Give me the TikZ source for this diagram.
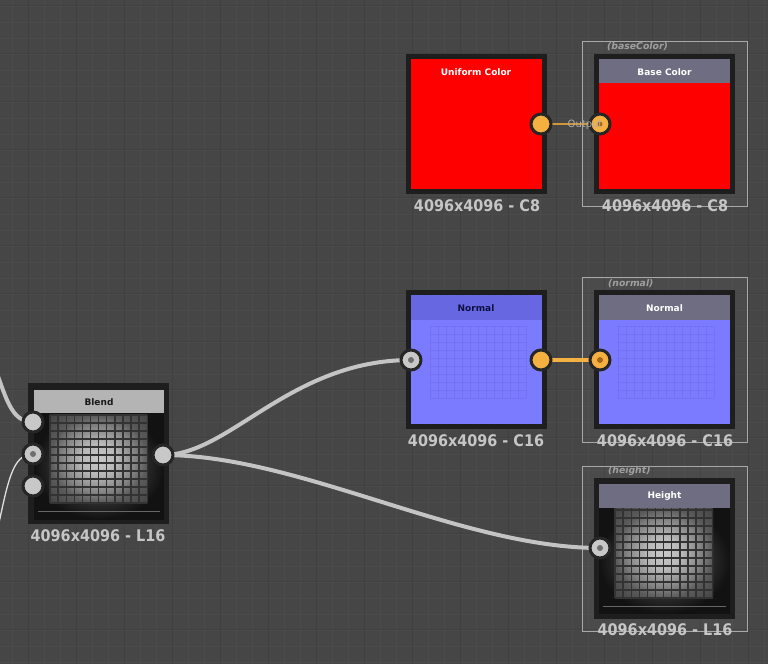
\documentclass[tikz,border=0pt]{standalone}
\usepackage{fontspec}
\setmainfont{DejaVu Sans}
\newfontfamily\labfont[FakeStretch=0.9]{DejaVu Sans}
\pgfdeclarelayer{bglayer}
\pgfdeclarelayer{wirelayer}
\pgfsetlayers{bglayer,wirelayer,main}
\definecolor{bgc}{HTML}{464646}
\definecolor{minorc}{HTML}{4B4B4B}
\definecolor{majorc}{HTML}{404040}
\definecolor{framec}{HTML}{1E1E1E}
\definecolor{hlc}{HTML}{A8A8A8}
\definecolor{titlegray}{HTML}{6E6D82}
\definecolor{titlelight}{HTML}{B4B4B4}
\definecolor{redc}{HTML}{FF0000}
\definecolor{bluec}{HTML}{7B7BFF}
\definecolor{bluetitle}{HTML}{6767E2}
\definecolor{bluegrid}{HTML}{6868E6}
\definecolor{orangec}{HTML}{F5B042}
\definecolor{orangedot}{HTML}{A86418}
\definecolor{ringc}{HTML}{262626}
\definecolor{sockgray}{HTML}{C8C8C8}
\definecolor{dotgray}{HTML}{6E6E6E}
\definecolor{wirec}{HTML}{C4C4C4}
\definecolor{labc}{HTML}{C6C6C6}
\definecolor{tagc}{HTML}{A0A0A0}
\definecolor{gA}{HTML}{C8C8C8}
\definecolor{gB}{HTML}{B8B8B8}
\definecolor{gC}{HTML}{828282}
\definecolor{gD}{HTML}{5A5A5A}
\definecolor{gE}{HTML}{444444}
\definecolor{mA}{HTML}{484848}
\definecolor{mB}{HTML}{2C2C2C}
\definecolor{mC}{HTML}{121212}
\pgfdeclareradialshading{gridglow}{\pgfpoint{0bp}{0bp}}{color(0bp)=(gA); color(9bp)=(gB); color(19bp)=(gC); color(25bp)=(gD); color(35bp)=(gE); color(50bp)=(gE)}
\pgfdeclareradialshading{bodyglow}{\pgfpoint{0bp}{0bp}}{color(0bp)=(mA); color(17bp)=(mB); color(25bp)=(mC); color(50bp)=(mC)}
\tikzset{
  sock/.style={circle, draw=ringc, line width=3pt, minimum size=20pt, inner sep=0pt},
  wire/.style={draw=wirec, line width=4pt},
  lab/.style={text=labc, font=\labfont\bfseries\fontsize{16}{16}\selectfont, inner sep=0pt},
  ttl/.style={font=\bfseries\fontsize{9}{9}\selectfont, inner sep=0pt},
  tag/.style={text=tagc, font=\bfseries\itshape\fontsize{9.3}{9.3}\selectfont, inner sep=0pt, anchor=west},
  hlbox/.style={draw=hlc, line width=1pt, fill=white, fill opacity=0.03},
  texgrid/.style={black!80, line width=1.4pt},
  faintgrid/.style={bluegrid, line width=0.6pt, opacity=0.45}
}
\begin{document}
\begin{tikzpicture}[x=1pt,y=-1pt]
\useasboundingbox (0,0) rectangle (768,664);
\begin{pgfonlayer}{bglayer}
\fill[bgc] (0,0) rectangle (768,664);
\foreach \v in {12,28,...,768} \draw[minorc, line width=0.9pt] (\v,0) -- (\v,664);
\foreach \v in {6,22,...,664} \draw[minorc, line width=0.9pt] (0,\v) -- (768,\v);
\foreach \v in {28,76,...,768} \draw[majorc, line width=1pt] (\v,0) -- (\v,664);
\foreach \v in {5,53,...,664} \draw[majorc, line width=1pt] (0,\v) -- (768,\v);
% highlight boxes
\draw[hlbox] (582.5,41.5) rectangle (747.5,206.5);
\draw[hlbox] (582.5,277.5) rectangle (747.5,442.5);
\draw[hlbox] (582.5,466.5) rectangle (747.5,631.5);
\end{pgfonlayer}

% ---------- Uniform Color ----------
\fill[framec] (406,54) rectangle (547,194);
\fill[redc] (411,59) rectangle (542,189);
\node[ttl, text=white] (tU) at (476,72) {Uniform Color};
\node[sock, fill=orangec] (uOut) at (541,124) {};
\node[lab] (lU) at (477,206) {4096x4096 - C8};

% ---------- Base Color ----------
\node[tag] (gBC) at (607,47) {(baseColor)};
\fill[framec] (594,54) rectangle (735,194);
\fill[titlegray] (599,59) rectangle (730,83);
\fill[redc] (599,83) rectangle (730,189);
\node[ttl, text=white] (tBC) at (664.5,72) {Base Color};
\node[sock, fill=orangec] (bIn) at (600,124) {};
\fill[orangedot] (bIn) circle (2.5);
\node[lab] (lBC) at (665,206) {4096x4096 - C8};

% ---------- Normal (left) ----------
\fill[framec] (406,290) rectangle (547,429);
\fill[bluetitle] (411,295) rectangle (542,320);
\fill[bluec] (411,320) rectangle (542,424);
\foreach \v in {430,438,...,526} \draw[faintgrid] (\v,326) -- (\v,398);
\foreach \v in {326,334,...,398} \draw[faintgrid] (430,\v) -- (526,\v);
\node[ttl, text={rgb,255:red,16;green,16;blue,64}] (tNL) at (476,308) {Normal};
\node[sock, fill=sockgray] (nIn) at (411,360) {};
\fill[dotgray] (nIn) circle (3);
\node[sock, fill=orangec] (nOut) at (541,360) {};
\node[lab] (lNL) at (476,441) {4096x4096 - C16};

% ---------- Normal (right) ----------
\node[tag] (gN) at (608,284) {(normal)};
\fill[framec] (594,290) rectangle (735,429);
\fill[titlegray] (599,295) rectangle (730,320);
\fill[bluec] (599,320) rectangle (730,424);
\foreach \v in {618,626,...,714} \draw[faintgrid] (\v,326) -- (\v,398);
\foreach \v in {326,334,...,398} \draw[faintgrid] (618,\v) -- (714,\v);
\node[ttl, text=white] (tNR) at (664.5,308) {Normal};
\node[sock, fill=orangec] (rIn) at (600,360) {};
\fill[orangedot] (rIn) circle (3);
\node[lab] (lNR) at (665,441) {4096x4096 - C16};

% ---------- Blend ----------
\fill[framec] (28,383) rectangle (169,524);
\fill[titlelight] (34,390) rectangle (164,413);
\shade[shading=bodyglow] (34,413) rectangle (164,519);
\shade[shading=gridglow] (50,415) rectangle (147,503);
\foreach \v in {50,58.1,...,148} \draw[texgrid] (\v,415) -- (\v,503);
\foreach \v in {415,423,...,504} \draw[texgrid] (50,\v) -- (147,\v);
\draw[black!60, line width=1pt] (38,511) -- (160,511);
\node[ttl, text=black!90] (tBl) at (99,402) {Blend};
\node[sock, fill=sockgray] (b1) at (33,422) {};
\node[sock, fill=sockgray] (b2) at (33,454) {};
\fill[dotgray] (b2) circle (3);
\node[sock, fill=sockgray] (b3) at (33,486) {};
\node[sock, fill=sockgray] (blOut) at (163,455) {};
\node[lab] (lBl) at (98,536) {4096x4096 - L16};

% ---------- Height ----------
\node[tag] (gH) at (608,471) {(height)};
\fill[framec] (594,478) rectangle (735,619);
\fill[titlegray] (599,484) rectangle (730,508);
\shade[shading=bodyglow] (599,508) rectangle (730,613);
\shade[shading=gridglow] (615,508) rectangle (713,598);
\foreach \v in {615,623.1,...,714} \draw[texgrid] (\v,508) -- (\v,598);
\foreach \v in {510,518,...,599} \draw[texgrid] (615,\v) -- (713,\v);
\draw[black!60, line width=1pt] (603,606) -- (726,606);
\node[ttl, text=white] (tH) at (664.5,496) {Height};
\node[sock, fill=sockgray] (hIn) at (600,548) {};
\fill[dotgray] (hIn) circle (3);
\node[lab] (lH) at (665,630) {4096x4096 - L16};

% ---------- wires ----------
\coordinate (offA) at (-8,360);
\coordinate (offB) at (-3,532);
\begin{pgfonlayer}{wirelayer}
\draw[wire] (offA) .. controls (6,396) and (10,422) .. (b1.center);
\draw[draw=white!88!black, line width=1.3pt] (offB) .. controls (8,482) and (12,454) .. (b2.center);
\draw[wire] (blOut.center) .. controls (230,455) and (290,360) .. (nIn.center);
\draw[wire] (blOut.center) .. controls (300,455) and (460,548) .. (hIn.center);
\draw[draw=orangec, line width=4pt] (nOut.center) -- (rIn.center);
\draw[draw=orangec!85!black, line width=1.5pt] (uOut.center) -- (bIn.center);
\end{pgfonlayer}
\node[text={rgb,255:red,175;green,175;blue,175}, font=\fontsize{10}{10}\selectfont, inner sep=0pt] (oTxt) at (585,125) {Output};
\end{tikzpicture}
\end{document}
